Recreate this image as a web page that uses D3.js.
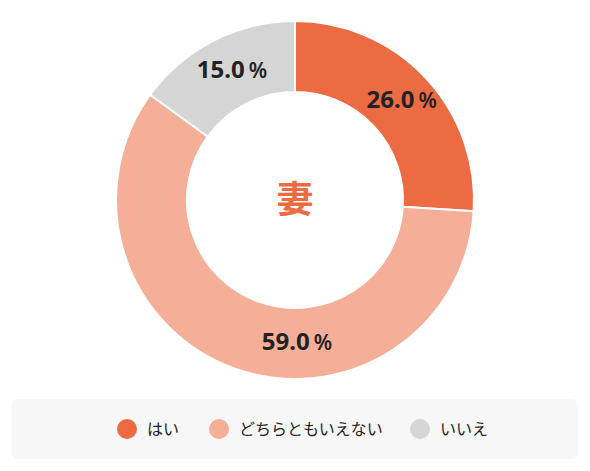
<!DOCTYPE html>
<html>
<head>
<meta charset="utf-8">
<script src="https://cdn.jsdelivr.net/npm/d3@7"></script>
<style>
  body { margin: 0; background: #fff; }
  svg { display: block; font-family: "Noto Sans CJK JP", "Noto Sans", sans-serif; }
</style>
</head>
<body>
<div id="chart"></div>
<script>
// data
var categories = ["はい", "どちらともいえない", "いいえ"];
var values = [26.0, 59.0, 15.0];
var colors = ["#ED6B43", "#F5AE98", "#D5D5D5"];
var centerLabel = "妻";

var svgWidth = 590;
var svgHeight = 471;

var svg = d3.select("#chart")
    .append("svg")
    .attr("width", svgWidth)
    .attr("height", svgHeight);

var cx = 295, cy = 200;
var outerR = 179, innerR = 108;
var labelR = (innerR + outerR) / 2;

var pie = d3.pie().sort(null).value(d => d);
var arcs = pie(values);

var arc = d3.arc().innerRadius(innerR).outerRadius(outerR);

// the big slice has its label pulled to the bottom of the ring
function labelAngle(d, i) {
    var a = (d.startAngle + d.endAngle) / 2;
    if (i === 1) a = Math.PI;
    return a;
}

var donut = svg.append("g")
    .attr("transform", `translate(${cx}, ${cy})`);

donut.selectAll("path")
    .data(arcs)
    .enter()
    .append("path")
    .attr("d", arc)
    .attr("fill", (d, i) => colors[i])
    .attr("stroke", "#fff")
    .attr("stroke-width", 2);

// percentage labels
var labels = donut.selectAll("text.pct")
    .data(arcs)
    .enter()
    .append("text")
    .attr("class", "pct")
    .attr("x", (d, i) => labelR * Math.sin(labelAngle(d, i)) + 2)
    .attr("y", (d, i) => -labelR * Math.cos(labelAngle(d, i)))
    .attr("dy", "0.38em")
    .attr("text-anchor", "middle")
    .attr("font-family", "'Noto Sans', sans-serif")
    .attr("font-weight", "bold")
    .attr("fill", "#222");

labels.append("tspan")
    .attr("font-size", "24px")
    .text(d => d.data.toFixed(1));
labels.append("tspan")
    .attr("font-size", "21px")
    .attr("font-weight", "600")
    .attr("dx", "4")
    .text("%");

// center text
donut.append("text")
    .attr("text-anchor", "middle")
    .attr("dy", "0.36em")
    .attr("font-size", "37px")
    .attr("font-weight", "bold")
    .attr("fill", "#ED6B43")
    .text(centerLabel);

// legend
svg.append("rect")
    .attr("x", 11)
    .attr("y", 399)
    .attr("width", 567)
    .attr("height", 60)
    .attr("rx", 7)
    .attr("fill", "#F7F7F7");

var legendX = [127, 219, 420];
var legend = svg.selectAll("g.legend")
    .data(categories)
    .enter()
    .append("g")
    .attr("class", "legend")
    .attr("transform", (d, i) => `translate(${legendX[i]}, 429)`);

legend.append("circle")
    .attr("r", 10)
    .attr("fill", (d, i) => colors[i]);

legend.append("text")
    .attr("x", 20)
    .attr("dy", "0.36em")
    .attr("font-size", "16px")
    .attr("fill", "#222")
    .text(d => d);
</script>
</body>
</html>
